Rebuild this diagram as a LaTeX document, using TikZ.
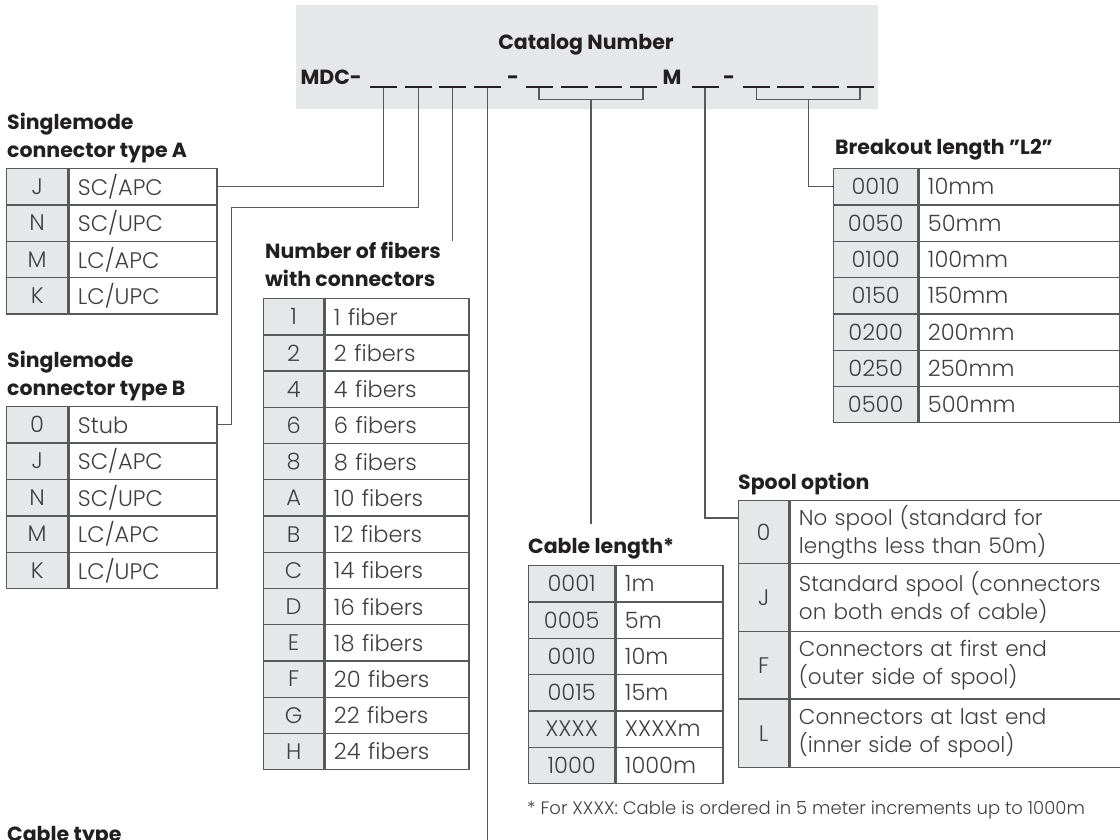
\documentclass[tikz,border=0pt]{standalone}
\usepackage{fontspec}
\setmainfont{Poppins}[UprightFont=* Light, BoldFont=* Bold]
\usetikzlibrary{positioning,calc}
\definecolor{cellgray}{HTML}{E6E7E8}
\definecolor{rulegray}{HTML}{58595B}
\definecolor{inkdark}{HTML}{231F20}
\definecolor{txtgray}{HTML}{3F3F41}

\begin{document}
\begin{tikzpicture}[
    x=1pt, y=-1pt,
    cell/.style={draw=rulegray, line width=1.3pt, inner ysep=0pt, anchor=north west, minimum height=36.3pt, font=\fontsize{22.5}{28}\selectfont, text=txtgray},
    code/.style={cell, fill=cellgray, inner xsep=0pt, align=center},
    desc/.style={cell, fill=white, text width=#1, inner xsep=9pt, align=left},
    ttl/.style={anchor=base west, inner sep=0pt, align=left, font=\bfseries\fontsize{20.5}{28}\selectfont, text=inkdark},
    hdr/.style={inner sep=0pt, font=\bfseries\fontsize{20.5}{24}\selectfont, text=inkdark},
    slot/.style={fill=inkdark, inner sep=0pt, minimum width=27pt, minimum height=2pt},
    link/.style={draw=rulegray, line width=1.2pt}
]
\clip (0,0) rectangle (1120,839);

% Catalog number header
\node[fill=cellgray, anchor=north west, minimum width=582pt, minimum height=104pt] (hdrbox) at (296,5) {};
\node[hdr, anchor=base] (cattitle) at (586,49.5) {Catalog Number};
\node[hdr, anchor=base east] (mdc) at (362,84) {MDC-};
\node[hdr, anchor=base] (dash1) at (513,84) {-};
\node[hdr, anchor=base] (mark) at (672,84) {M};
\node[hdr, anchor=base] (dash2) at (729,84) {-};
\foreach \x [count=\i] in {383.5,418.5,452.5,487.5,539,574,608.5,643,705,756.5,790.5,825,860}
    \node[slot] (s\i) at (\x,87) {};

% Singlemode connector type A
\node[ttl] (atitle) at (7,157.3) {Singlemode\\connector type A};
\foreach \c/\d [count=\i] in {J/{SC/APC}, N/{SC/UPC}, M/{LC/APC}, K/{LC/UPC}} {
    \node[code, minimum width=61pt] (ac\i) at (6,{168+36.3*(\i-1)}) {\c};
    \node[desc=130pt, right=0pt of ac\i] (ad\i) {\d};
}

% Singlemode connector type B
\node[ttl] (btitle) at (7,395) {Singlemode\\connector type B};
\foreach \c/\d [count=\i] in {0/Stub, J/{SC/APC}, N/{SC/UPC}, M/{LC/APC}, K/{LC/UPC}} {
    \node[code, minimum width=61pt] (bc\i) at (6,{406+36.4*(\i-1)}) {\c};
    \node[desc=130pt, right=0pt of bc\i] (bd\i) {\d};
}

% Number of fibers
\node[ttl] (ftitle) at (265,286) {Number of fibers\\with connectors};
\foreach \c/\d [count=\i] in {1/1 fiber, 2/2 fibers, 4/4 fibers, 6/6 fibers, 8/8 fibers, A/10 fibers, B/12 fibers,
    C/14 fibers, D/16 fibers, E/18 fibers, F/20 fibers, G/22 fibers, H/24 fibers} {
    \node[code, minimum width=60pt] (fc\i) at (263,{298+36.23*(\i-1)}) {\c};
    \node[desc=126pt, right=0pt of fc\i] (fd\i) {\d};
}

% Cable length
\node[ttl] (ltitle) at (528,553) {Cable length*};
\foreach \c/\d [count=\i] in {0001/1m, 0005/5m, 0010/10m, 0015/15m, XXXX/XXXXm, 1000/1000m} {
    \node[code, minimum width=86pt] (lc\i) at (528,{565+36.33*(\i-1)}) {\c};
    \node[desc=89pt, right=0pt of lc\i] (ld\i) {\d};
}
\node[anchor=base west, inner sep=0pt, font=\fontsize{18}{20}\selectfont, text=txtgray] (fnote) at (527,814)
    {* For XXXX: Cable is ordered in 5 meter increments up to 1000m};

% Spool option
\node[ttl] (ptitle) at (738,489) {Spool option};
\foreach \c/\d/\t/\h [count=\i] in {0/{No spool (standard for\\lengths less than 50m)}/500/62.7,
    J/{Standard spool (connectors\\on both ends of cable)}/562.7/68.3,
    F/{Connectors at first end\\(outer side of spool)}/631/67.3,
    L/{Connectors at last end\\(inner side of spool)}/698.3/68.4} {
    \node[code, minimum width=50pt, minimum height=\h pt] (pc\i) at (738,\t) {\c};
    \node[desc=362pt, minimum height=\h pt, font=\fontsize{21.5}{28}\selectfont, right=0pt of pc\i] (pd\i) {\d};
}

% Breakout length
\node[ttl] (ktitle) at (835,154.3) {Breakout length "L2"};
\foreach \c/\d [count=\i] in {0010/10mm, 0050/50mm, 0100/100mm, 0150/150mm, 0200/200mm, 0250/250mm, 0500/500mm} {
    \node[code, minimum width=84pt] (kc\i) at (833,{168+36.3*(\i-1)}) {\c};
    \node[desc=183pt, right=0pt of kc\i] (kd\i) {\d};
}

% Cable type (cut off at the bottom)
\node[ttl] (ctitle) at (7,841) {Cable type};

% Leader lines
\draw[link] (s1.south) |- (ad1.east);
\draw[link] (s2.south) -- ++(0,119) -| ($(bd1.east)+(14,0)$) -- (bd1.east);
\draw[link] (s3.south) -- (s3.south |- ftitle.north);
\draw[link] (s4.south) -- (s4.south |- ctitle.base);
\draw[link] (s5.south) -- ++(0,11) -| (s8.south);
\coordinate (g4) at ($(s5.south)!.5!(s8.south)+(0,11)$);
\draw[link, shorten >=14pt] (g4) -- (g4 |- ltitle.north);
\draw[link] (s9.south) |- ($(pc1.north west)+(0,18)$);
\draw[link] (s10.south) -- ++(0,11) -| (s13.south);
\coordinate (g6) at ($(s10.south)!.5!(s13.south)+(0,11)$);
\draw[link] (g6) |- (kc1.west);
\end{tikzpicture}
\end{document}
